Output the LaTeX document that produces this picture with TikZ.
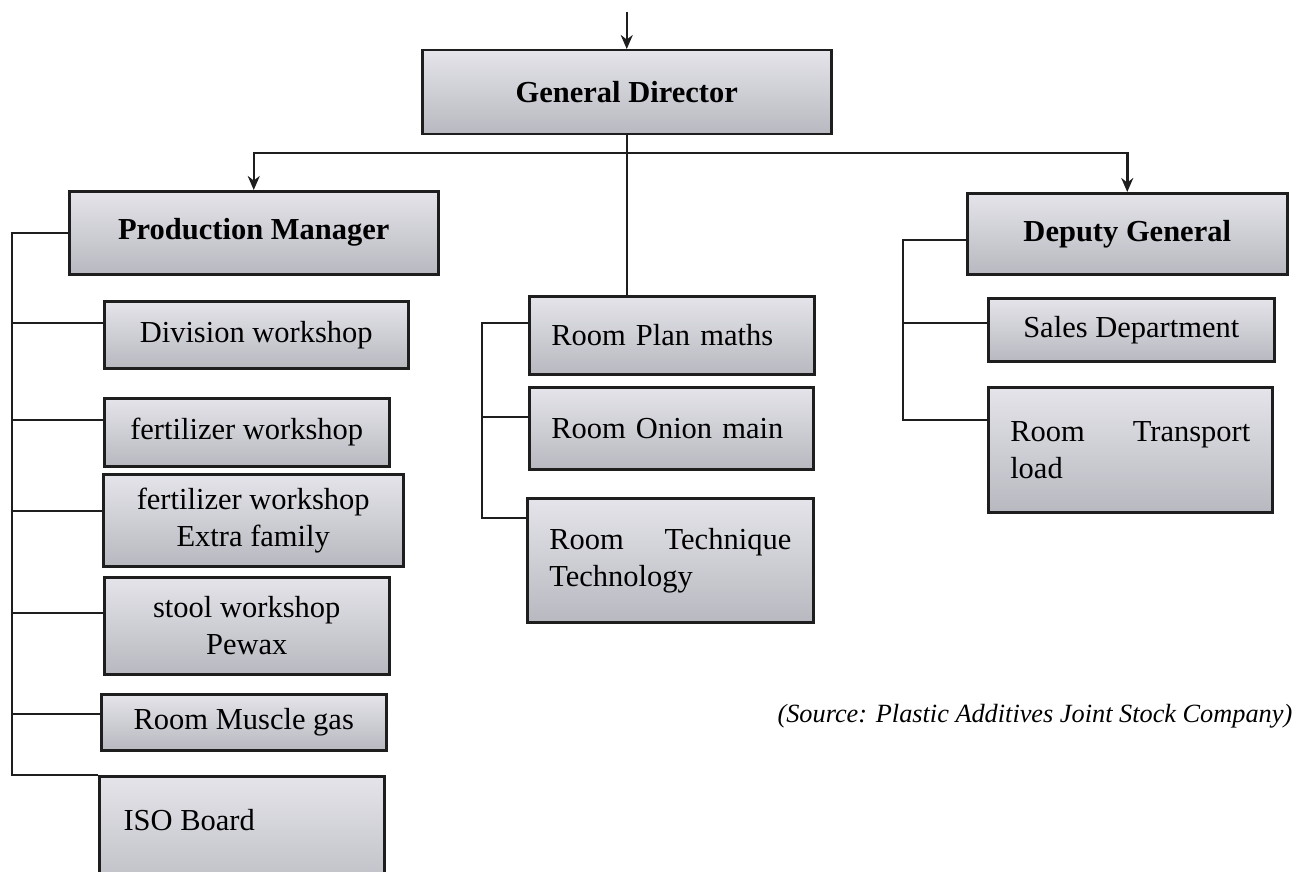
\documentclass[tikz,border=0pt]{standalone}
\usepackage{fontspec}
\setmainfont{Liberation Serif}
\usetikzlibrary{positioning,calc,arrows.meta}
\definecolor{ink}{HTML}{1E1E1E}
\definecolor{shadetop}{HTML}{E4E4EA}
\definecolor{shadebot}{HTML}{B8B8C0}

\begin{document}
\begin{tikzpicture}[x=1pt,y=-1pt,
  wire/.style={draw=ink,line width=2.5pt},
  arr/.style={wire,-{Stealth[length=14pt,width=12pt]}},
  unit/.style={draw=ink,line width=2.5pt,top color=shadetop,middle color=white,bottom color=shadebot,
    anchor=north west,inner sep=0pt,align=center,font=\fontsize{30.5}{37}\selectfont},
  head/.style={unit,font=\fontsize{30.5}{37}\selectfont\bfseries},
  room/.style={unit,align=left,inner xsep=22pt}]
\clip (0,0) rectangle (1293,872);
\fill[white] (0,0) rectangle (1293,872);

\node[head,minimum width=409,minimum height=84] (gd) at (421,49) {General Director};
\node[head,minimum width=369,minimum height=83] (pm) at (68,190) {Production Manager};
\node[head,minimum width=320,minimum height=81] (dg) at (966,192) {Deputy General};

\node[unit,minimum width=304,minimum height=67] (div) at (103,300) {Division workshop};
\node[unit,minimum width=285,minimum height=68] (fw) at (103,397) {fertilizer workshop};
\node[unit,minimum width=300,minimum height=92] (fx) at (102,473) {fertilizer workshop\\Extra family};
\node[unit,minimum width=285,minimum height=97] (st) at (103,576) {stool workshop\\Pewax};
\node[unit,minimum width=285,minimum height=56] (mg) at (100,693) {Room Muscle gas};
\node[unit,minimum width=285,minimum height=130] (iso) at (98,775) {};
\node[anchor=west,font=\fontsize{30.5}{37}\selectfont] (isot) at ($(iso.north west)+(22,45)$) {ISO Board};

\node[room,text width=241,minimum height=78] (rpm) at (528,295) {Room Plan maths};
\node[room,text width=240,minimum height=82] (ron) at (528,386) {Room Onion main};
\node[room,text width=242,minimum height=124] (rtt) at (526,497) {Room\hfill Technique\\Technology};

\node[unit,minimum width=286,minimum height=63] (sd) at (987,297) {Sales Department};
\node[room,text width=240,minimum height=125] (rtl) at (987,386) {Room\hfill Transport\\load};

\node[anchor=west,font=\fontsize{26.3}{30}\selectfont\itshape] (src) at (774,716) {(Source: Plastic Additives Joint Stock Company)};

\draw[arr] ([yshift=37pt]gd.north) -- (gd.north);
\coordinate (bus) at (gd.south |- 0,153);
\draw[wire] (gd.south) -- (gd.south |- rpm.north);
\draw[arr] (bus) -| (pm.north);
\draw[arr] (bus) -| (dg.north);

\coordinate (ls) at (12,0);
\draw[wire] (pm.west) -| (ls |- iso.north west) -- (iso.north west);
\foreach \b/\d in {div/23,fw/23,fx/38,st/37,mg/21}
  \draw[wire] ($(\b.north west)+(0,\d)$) coordinate (t) -- (ls |- t);

\coordinate (ms) at (482,0);
\coordinate (m1) at ($(rpm.north west)+(0,28)$);
\coordinate (m2) at ($(ron.north west)+(0,31)$);
\coordinate (m3) at ($(rtt.north west)+(0,21)$);
\draw[wire] (m1) -| (ms |- m3) -- (m3);
\draw[wire] (m2) -- (ms |- m2);

\coordinate (rs) at (903,0);
\coordinate (r0) at ($(dg.north west)+(0,48)$);
\coordinate (r1) at ($(sd.north west)+(0,26)$);
\coordinate (r2) at ($(rtl.north west)+(0,34)$);
\draw[wire] (r0) -| (rs |- r2) -- (r2);
\draw[wire] (r1) -- (rs |- r1);
\end{tikzpicture}
\end{document}
